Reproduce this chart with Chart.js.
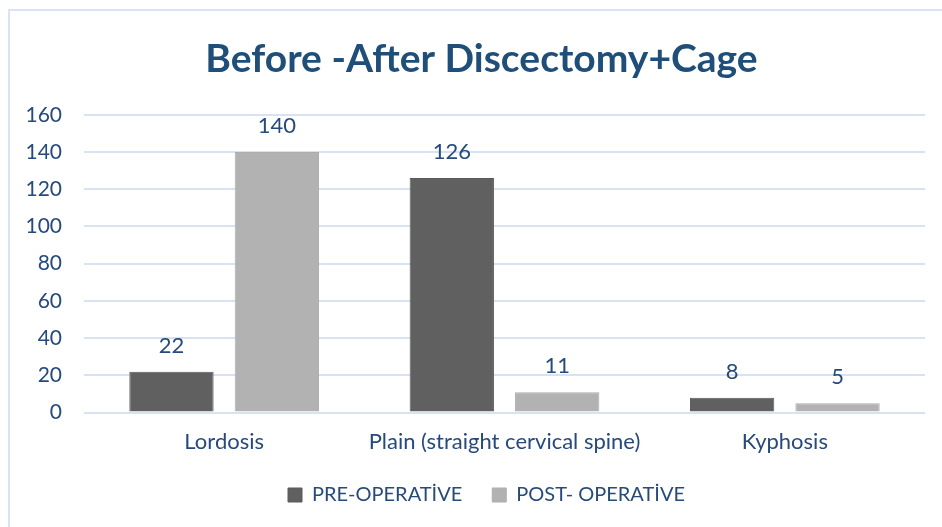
<!DOCTYPE html>
<html>
<head>
<meta charset="utf-8">
<script src="https://cdn.jsdelivr.net/npm/chart.js@4/dist/chart.umd.min.js"></script>
<style>
html,body{margin:0;padding:0;background:#fff;}
#wrap{position:relative;width:942px;height:527px;overflow:hidden;}
#frame{position:absolute;left:8px;top:9px;width:1000px;height:600px;border-left:2px solid #DAE3F3;border-top:2px solid #DAE3F3;box-sizing:border-box;}
#c{position:absolute;left:0;top:0;}
</style>
</head>
<body>
<div id="wrap">
<div id="frame"></div>
<canvas id="c" width="942" height="527"></canvas>
</div>
<script>
const categories = ["Lordosis", "Plain (straight cervical spine)", "Kyphosis"];
const preOperative = [22, 126, 8];
const postOperative = [140, 11, 5];
const seriesNames = ["PRE-OPERATİVE", "POST- OPERATİVE"];
const titleText = "Before -After Discectomy+Cage";

const textColor = "#264A7C";
const fontFamily = "Lato, 'Open Sans', sans-serif";

const valueLabels = {
  id: "valueLabels",
  afterLayout(chart) {
    const lg = chart.legend;
    if (lg) { lg.top -= 16; lg.bottom -= 16; lg.left += 24; lg.right += 24; }
    const tb = chart.titleBlock;
    if (tb) { tb.left += 19; tb.right += 19; }
  },
  afterDatasetsDraw(chart) {
    const ctx = chart.ctx;
    ctx.save();
    ctx.font = "22px " + fontFamily;
    ctx.fillStyle = textColor;
    ctx.textAlign = "center";
    ctx.textBaseline = "middle";
    chart.data.datasets.forEach((ds, i) => {
      const meta = chart.getDatasetMeta(i);
      meta.data.forEach((el, j) => {
        ctx.fillText(String(ds.data[j]), el.x, el.y - 26);
      });
    });
    ctx.restore();
  }
};

new Chart(document.getElementById("c"), {
  type: "bar",
  data: {
    labels: categories,
    datasets: [
      { label: seriesNames[0], data: preOperative, backgroundColor: "#606060", borderColor: "#5A5A5A", borderWidth: 1, categoryPercentage: 0.752, barPercentage: 0.8 },
      { label: seriesNames[1], data: postOperative, backgroundColor: "#B2B2B2", borderColor: "#ADADAD", borderWidth: 1, categoryPercentage: 0.752, barPercentage: 0.8 }
    ]
  },
  options: {
    responsive: false,
    animation: false,
    layout: { padding: { left: 0, right: 17, top: 0, bottom: -4 } },
    plugins: {
      title: {
        display: true,
        text: titleText,
        color: "#1F4E79",
        font: { family: fontFamily, size: 39, weight: "bold" },
        padding: { top: 36, bottom: 32 }
      },
      legend: {
        position: "bottom",
        labels: {
          color: textColor,
          font: { family: fontFamily, size: 20 },
          boxWidth: 14,
          boxHeight: 14,
          padding: 30
        }
      },
      tooltip: { enabled: false }
    },
    scales: {
      x: {
        grid: { display: false, drawTicks: false },
        border: { display: false },
        ticks: { color: textColor, font: { family: fontFamily, size: 22 }, padding: 16 }
      },
      y: {
        min: 0, max: 160,
        afterFit(scale) { scale.width = 84; },
        grid: { color: "#D9E2F3", lineWidth: 2, drawTicks: false },
        border: { display: false },
        ticks: { stepSize: 20, color: textColor, font: { family: fontFamily, size: 21 }, padding: 22 }
      }
    }
  },
  plugins: [valueLabels]
});
</script>
</body>
</html>
